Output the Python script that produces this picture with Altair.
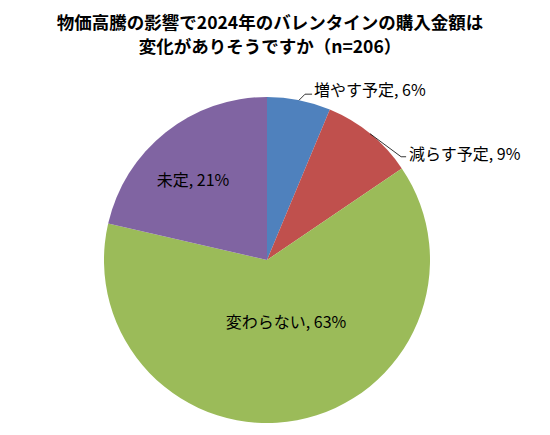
import altair as alt
import numpy as np
import pandas as pd

# ---- data ----
categories = ["増やす予定", "減らす予定", "変わらない", "未定"]
shares = [6.3, 9.2, 63.1, 21.4]
pct_labels = ["6%", "9%", "63%", "21%"]
colors = ["#4F81BD", "#C0504D", "#9BBB59", "#8064A2"]
title_lines = ["物価高騰の影響で2024年のバレンタインの購入金額は",
               "変化がありそうですか（n=206）"]

# ---- layout ----
W, H = 518, 334
R = 163
FONT = "Noto Sans CJK JP"
# outside labels: (bend dx, bend dy, horizontal length, text gap, text dy)
outside = {0: (6, 6, 7, 2, 3), 1: (31, -23, 5, 3, 2)}
# inside labels: (radius factor, dx, dy)
inside = {2: (0.40, 7, 1), 3: (0.66, -7, -5)}

vals = np.array(shares, dtype=float)
cum = np.concatenate([[0], np.cumsum(vals)[:-1]])
mid = 2 * np.pi * (cum + vals / 2) / vals.sum()

pie_df = pd.DataFrame({"cat": categories, "value": shares, "idx": range(len(categories))})

label_rows, line_rows = [], []
for i, cat in enumerate(categories):
    text = f"{cat}, {pct_labels[i]}"
    ex, ey = R * np.sin(mid[i]), R * np.cos(mid[i])
    if i in outside:
        bdx, bdy, hl, gap, tdy = outside[i]
        bx, by = ex + bdx, ey + bdy
        line_rows += [
            {"cat": cat, "o": 0, "x": ex, "y": ey},
            {"cat": cat, "o": 1, "x": bx, "y": by},
            {"cat": cat, "o": 2, "x": bx + hl, "y": by},
        ]
        label_rows.append({"cat": cat, "kind": "out", "text": text,
                           "x": bx + hl + gap, "y": by + tdy})
    else:
        rf, dx, dy = inside[i]
        label_rows.append({"cat": cat, "kind": "in", "text": text,
                           "x": rf * R * np.sin(mid[i]) + dx,
                           "y": rf * R * np.cos(mid[i]) + dy})

labels_df = pd.DataFrame(label_rows)
lines_df = pd.DataFrame(line_rows)

xs = alt.Scale(domain=[-W / 2, W / 2], nice=False, zero=False)
ys = alt.Scale(domain=[-H / 2, H / 2], nice=False, zero=False)

pie = alt.Chart(pie_df).mark_arc(outerRadius=R).encode(
    theta=alt.Theta("value:Q", stack=True),
    color=alt.Color("cat:N", scale=alt.Scale(domain=categories, range=colors), legend=None),
    order=alt.Order("idx:Q"),
)

leaders = alt.Chart(lines_df).mark_line(color="#000000", strokeWidth=0.8).encode(
    x=alt.X("x:Q", scale=xs, axis=None),
    y=alt.Y("y:Q", scale=ys, axis=None),
    detail="cat:N",
    order="o:Q",
)

out_text = alt.Chart(labels_df).transform_filter(alt.datum.kind == "out").mark_text(
    font=FONT, fontSize=16, color="#000000", align="left", baseline="middle"
).encode(
    x=alt.X("x:Q", scale=xs, axis=None),
    y=alt.Y("y:Q", scale=ys, axis=None),
    text="text:N",
)

in_text = alt.Chart(labels_df).transform_filter(alt.datum.kind == "in").mark_text(
    font=FONT, fontSize=16, color="#000000", align="center", baseline="middle"
).encode(
    x=alt.X("x:Q", scale=xs, axis=None),
    y=alt.Y("y:Q", scale=ys, axis=None),
    text="text:N",
)

chart = alt.layer(pie, leaders, out_text, in_text).properties(
    width=W,
    height=H,
    autosize=alt.AutoSizeParams(type="none"),
    padding={"top": 85, "left": 0, "right": 16, "bottom": 0},
    title=alt.Title(
        text=title_lines,
        font=FONT,
        fontSize=17.5,
        fontWeight="bold",
        color="#000000",
        anchor="middle",
        frame="group",
        offset=27,
        lineHeight=24,
        dx=3,
    ),
).configure_view(stroke=None)

chart.save("out.html", embed_options={"renderer": "svg", "actions": False})
